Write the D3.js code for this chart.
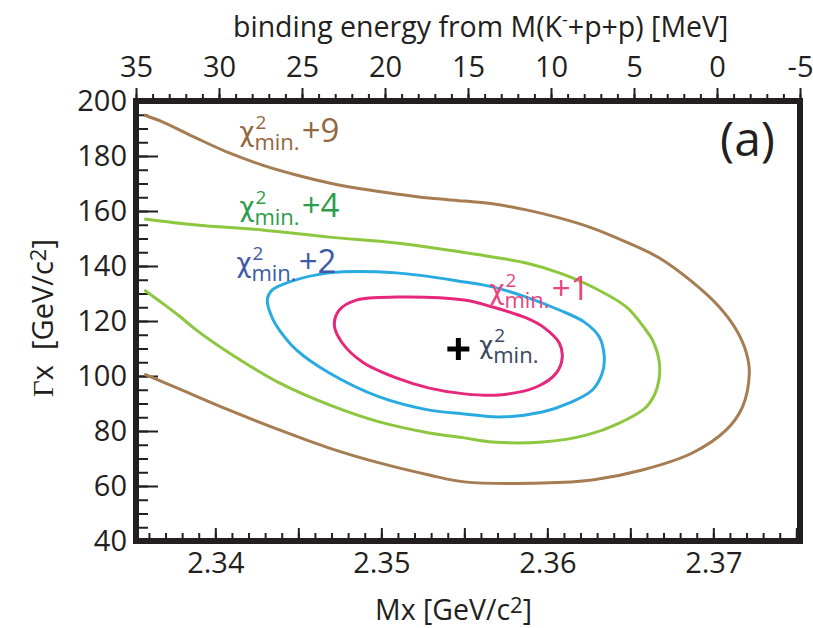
<!DOCTYPE html>
<html>
<head>
<meta charset="utf-8">
<script src="https://cdn.jsdelivr.net/npm/d3@7"></script>
<style>
body { margin: 0; background: #fff; }
svg { display: block; font-family: "Open Sans", sans-serif; }
</style>
</head>
<body>
<div class="graph-container"></div>
<script>
var svgWidth = 813;
var svgHeight = 628;
var plotLeft = 136;
var plotRight = 800;
var plotTop = 101;
var plotBottom = 541;
var ink = '#231f20';

// M(K- + p + p) in GeV/c2, used for the binding energy axis on top
const MASS_KPP = 2.370221;

// tick labels
const bindingTicks = [35, 30, 25, 20, 15, 10, 5, 0, -5];
const massTicks = [2.34, 2.35, 2.36, 2.37];
const gammaTicks = [40, 60, 80, 100, 120, 140, 160, 180, 200];

// contour levels: [Mx, Gamma]
const contour9 = [
  [2.33572, 194.9], [2.33681, 192.4], [2.33886, 186.5], [2.34084, 181.1],
  [2.34283, 176.7], [2.34488, 173.1], [2.34687, 170.2], [2.34886, 168.0],
  [2.35090, 166.2], [2.35289, 164.7], [2.35500, 163.6], [2.35669, 162.6],
  [2.35873, 160.4], [2.36072, 157.5], [2.36271, 153.8], [2.36476, 148.7],
  [2.36675, 142.9], [2.36873, 134.2], [2.37036, 125.1], [2.37139, 116.7],
  [2.37199, 108.4], [2.37217, 101.1], [2.37175, 88.7], [2.37078, 80.4],
  [2.36873, 72.0], [2.36572, 65.8], [2.36271, 62.2], [2.35970, 61.1],
  [2.35500, 61.5], [2.35289, 64.0], [2.34988, 68.4], [2.34687, 73.8],
  [2.34386, 80.4], [2.34084, 87.6], [2.33783, 95.3], [2.33572, 100.7]
];
const contour4 = [
  [2.33572, 157.1], [2.33886, 154.9], [2.34283, 153.1], [2.34687, 150.5],
  [2.35090, 148.4], [2.35500, 144.9], [2.35669, 143.3], [2.35873, 141.1],
  [2.36072, 137.5], [2.36271, 132.4], [2.36476, 125.1], [2.36584, 117.5],
  [2.36633, 113.1], [2.36675, 104.7], [2.36663, 96.0], [2.36596, 88.7],
  [2.36434, 82.9], [2.36235, 78.5], [2.35970, 76.0], [2.35669, 76.0],
  [2.35500, 77.5], [2.35289, 79.3], [2.34988, 83.3], [2.34687, 89.5],
  [2.34386, 97.5], [2.34084, 108.4], [2.33886, 116.7], [2.33783, 121.8],
  [2.33681, 126.5], [2.33572, 131.3]
];
const contour2 = [
  [2.34313, 127.6], [2.34343, 131.3], [2.34446, 134.2], [2.34687, 137.5],
  [2.35090, 137.5], [2.35500, 134.2], [2.35669, 132.4], [2.35873, 128.7],
  [2.36072, 124.0], [2.36223, 119.6], [2.36313, 114.2], [2.36343, 106.9],
  [2.36331, 101.1], [2.36271, 94.9], [2.36133, 90.2], [2.35970, 86.9],
  [2.35711, 85.1], [2.35500, 86.2], [2.35289, 87.6], [2.34988, 92.4],
  [2.34687, 101.1], [2.34488, 109.5], [2.34386, 116.7], [2.34343, 121.1]
];
const contour1 = [
  [2.34717, 118.5], [2.34747, 124.0], [2.34849, 127.6], [2.35090, 128.7],
  [2.35500, 127.6], [2.35669, 125.1], [2.35873, 121.1], [2.35982, 117.5],
  [2.36072, 112.0], [2.36090, 106.9], [2.36054, 101.1], [2.35934, 96.0],
  [2.35711, 93.1], [2.35500, 93.5], [2.35289, 95.6], [2.35090, 99.3],
  [2.34886, 105.1], [2.34765, 112.0]
];
// best fit point
const chi2Min = [2.35464, 109.8];

// label anchors (left edge / baseline) in data space
const labelMx = [2.34145, 2.34145, 2.34127, 2.35651];
const labelGamma = [185.1, 157.8, 137.5, 127.6];
const labelText = ['+9', '+4', '+2', '+1'];

var svg = d3.select('.graph-container').append('svg')
  .attr('width', svgWidth)
  .attr('height', svgHeight);

svg.append('rect')
  .attr('width', svgWidth)
  .attr('height', svgHeight)
  .attr('fill', '#fff');

var xScale = d3.scaleLinear()
  .domain([MASS_KPP - 0.035, MASS_KPP + 0.005])
  .range([plotLeft, plotRight]);

// binding energy in MeV, same pixels as the mass axis
var bScale = d3.scaleLinear()
  .domain([35, -5])
  .range([xScale(MASS_KPP - 0.035), xScale(MASS_KPP + 0.005)]);

var yScale = d3.scaleLinear()
  .domain([40, 200])
  .range([plotBottom, plotTop]);

function styleAxis(g, fontSize) {
  g.select('.domain').remove();
  g.selectAll('line').attr('stroke', ink).attr('stroke-width', 2);
  g.selectAll('text')
    .attr('fill', ink)
    .style('font-family', '"Open Sans", sans-serif')
    .style('font-size', fontSize + 'px');
}

// plain hyphen for negatives, like the original
function intFormat(d) { return String(d); }

// bottom axis, ticks pointing into the plot
var minorMass = d3.range(2336, 2376).map(function(d) { return d / 1000; });
svg.append('g')
  .attr('transform', 'translate(0,' + plotBottom + ')')
  .call(d3.axisBottom(xScale).tickValues(minorMass).tickSize(-8).tickFormat(''))
  .call(styleAxis, 29);
svg.append('g')
  .attr('transform', 'translate(0,' + plotBottom + ')')
  .call(d3.axisBottom(xScale).tickValues([2.34, 2.345, 2.35, 2.355, 2.36, 2.365, 2.37, 2.375])
    .tickSize(-13).tickPadding(11)
    .tickFormat(function(d) { return massTicks.indexOf(d) >= 0 ? d3.format('.2f')(d) : ''; }))
  .call(styleAxis, 29);

// top axis, binding energy, ticks pointing out
var minorBinding = d3.range(-5, 36);
svg.append('g')
  .attr('transform', 'translate(0,' + plotTop + ')')
  .call(d3.axisTop(bScale).tickValues(minorBinding).tickSize(7).tickFormat(''))
  .call(styleAxis, 29);
svg.append('g')
  .attr('transform', 'translate(0,' + plotTop + ')')
  .call(d3.axisTop(bScale).tickValues(bindingTicks).tickSize(13).tickPadding(11)
    .tickFormat(intFormat))
  .call(styleAxis, 29);

// left axis, ticks pointing in
var minorGamma = d3.range(40, 201, 5);
svg.append('g')
  .attr('transform', 'translate(' + plotLeft + ',0)')
  .call(d3.axisLeft(yScale).tickValues(minorGamma).tickSize(-12).tickFormat(''))
  .call(styleAxis, 29);
svg.append('g')
  .attr('transform', 'translate(' + plotLeft + ',0)')
  .call(d3.axisLeft(yScale).tickValues(gammaTicks).tickSize(-22).tickPadding(9)
    .tickFormat(intFormat))
  .call(styleAxis, 29);

// contours
svg.append('clipPath')
  .attr('id', 'plot-clip')
  .append('rect')
  .attr('x', plotLeft)
  .attr('y', plotTop)
  .attr('width', plotRight - plotLeft)
  .attr('height', plotBottom - plotTop);

var plotArea = svg.append('g').attr('clip-path', 'url(#plot-clip)');

var openLine = d3.line()
  .x(function(d) { return xScale(d[0]); })
  .y(function(d) { return yScale(d[1]); })
  .curve(d3.curveCatmullRom);

var closedLine = d3.line()
  .x(function(d) { return xScale(d[0]); })
  .y(function(d) { return yScale(d[1]); })
  .curve(d3.curveCatmullRomClosed);

plotArea.append('path').attr('d', openLine(contour9))
  .attr('fill', 'none').attr('stroke', '#a67c52').attr('stroke-width', 3);
plotArea.append('path').attr('d', openLine(contour4))
  .attr('fill', 'none').attr('stroke', '#8dc63f').attr('stroke-width', 3);
plotArea.append('path').attr('d', closedLine(contour2))
  .attr('fill', 'none').attr('stroke', '#29abe2').attr('stroke-width', 3);
plotArea.append('path').attr('d', closedLine(contour1))
  .attr('fill', 'none').attr('stroke', '#e6287b').attr('stroke-width', 3);

// chi2 labels
var labelColors = ['#94673f', '#2e9c4a', '#3d5aa8', '#e8457f'];

function chiLabel(x0, y0, color, chiSize, suffix, gap) {
  var g = svg.append('g').attr('fill', color);
  var chi = g.append('text').attr('x', x0).attr('y', y0 - 1)
    .style('font-family', '"DejaVu Sans", sans-serif')
    .style('font-size', chiSize + 'px').text('\u03c7');
  var w = chi.node().getComputedTextLength();
  g.append('text').attr('x', x0 + w + 1).attr('y', y0 - 13)
    .style('font-size', '19px').text('2');
  var sub = g.append('text').attr('x', x0 + w).attr('y', y0 + 8)
    .style('font-size', '22px').text('min.');
  var ws = sub.node().getComputedTextLength();
  if (suffix) {
    g.append('text').attr('x', x0 + w + ws + gap).attr('y', y0)
      .style('font-size', '33px').text(suffix);
  }
}

for (var i = 0; i < labelText.length; i++) {
  chiLabel(xScale(labelMx[i]), yScale(labelGamma[i]), labelColors[i], 26, labelText[i], 2);
}

// best fit marker
var cx = xScale(chi2Min[0]);
var cy = yScale(chi2Min[1]);
svg.append('path')
  .attr('d', 'M' + (cx - 11) + ',' + cy + 'H' + (cx + 11) + 'M' + cx + ',' + (cy - 11) + 'V' + (cy + 11))
  .attr('stroke', '#000')
  .attr('stroke-width', 5);
chiLabel(cx + 21, cy + 6, '#3b4660', 24, null, 0);

// frame
svg.append('rect')
  .attr('x', plotLeft)
  .attr('y', plotTop)
  .attr('width', plotRight - plotLeft)
  .attr('height', plotBottom - plotTop)
  .attr('fill', 'none')
  .attr('stroke', ink)
  .attr('stroke-width', 6);

// panel tag
svg.append('text')
  .attr('x', 720)
  .attr('y', 156)
  .attr('fill', ink)
  .style('font-size', '48px')
  .text('(a)');

// axis titles
var topTitle = svg.append('text')
  .attr('x', 233)
  .attr('y', 37)
  .attr('fill', ink)
  .style('font-size', '28.5px');
topTitle.append('tspan').text('binding energy from M(K');
topTitle.append('tspan').attr('dy', -11).style('font-size', '18px').text('-');
topTitle.append('tspan').attr('dy', 11).text('+p+p) [MeV]');

var bottomTitle = svg.append('text')
  .attr('x', 375)
  .attr('y', 620)
  .attr('fill', ink)
  .style('font-size', '28.5px');
bottomTitle.append('tspan').text('Mx [GeV/c');
bottomTitle.append('tspan').attr('dy', -7).style('font-size', '22px').text('2');
bottomTitle.append('tspan').attr('dy', 7).text(']');

var leftTitle = svg.append('text')
  .attr('transform', 'translate(53,318) rotate(-90)')
  .attr('text-anchor', 'middle')
  .attr('fill', ink)
  .style('font-size', '29px');
leftTitle.append('tspan').style('font-family', '"Liberation Serif", serif').text('\u0393');
leftTitle.append('tspan').text('x\u00a0\u00a0[GeV/c');
leftTitle.append('tspan').attr('dy', -7).style('font-size', '22px').text('2');
leftTitle.append('tspan').attr('dy', 7).text(']');
</script>
</body>
</html>
